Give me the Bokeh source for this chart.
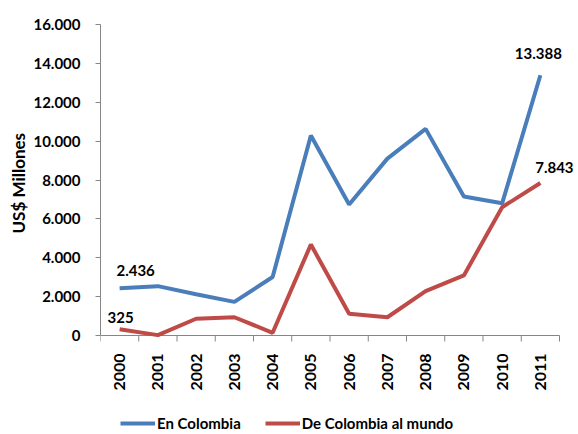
import numpy as np
from bokeh.plotting import figure
from bokeh.models import FixedTicker, Range1d, Legend, LegendItem, Label, Title
from bokeh.core.properties import value
from bokeh.embed import file_html
from bokeh.resources import INLINE

years = ["2000", "2001", "2002", "2003", "2004", "2005",
         "2006", "2007", "2008", "2009", "2010", "2011"]
en_colombia = [2436, 2540, 2120, 1730, 3010, 10290, 6740, 9100, 10630, 7150, 6800, 13388]
de_colombia = [325, 20, 860, 940, 140, 4680, 1120, 940, 2280, 3090, 6600, 7843]
y_ticks = [0, 2000, 4000, 6000, 8000, 10000, 12000, 14000, 16000]
y_tick_labels = ["0", "2.000", "4.000", "6.000", "8.000", "10.000", "12.000", "14.000", "16.000"]
series_names = ["En Colombia", "De Colombia al mundo"]
y_title = "US$ Millones"

BLUE = "#4A7EBB"
RED = "#BE4B48"
AXIS = "#868686"
FONT = "Lato"

# canvas geometry (pixels)
W, H = 576, 432
LEFT, TOP = 100, 24
AXIS_Y_PX = 335          # pixel row of value 0
AXIS_RIGHT_PX = 559      # pixel column of the x axis end
TITLE_BOTTOM_PX = 233    # pixel row where the rotated y title starts


def fmt(v):
    return f"{v:,}".replace(",", ".")


xs = list(range(len(years)))
n = len(years)

px_per_y = (AXIS_Y_PX - TOP) / (y_ticks[-1] - y_ticks[0])
y_start = y_ticks[0] - (H - AXIS_Y_PX) / px_per_y
px_per_x = (AXIS_RIGHT_PX - LEFT) / n
x_end = -0.5 + (W - LEFT) / px_per_x

p = figure(width=W, height=H, output_backend="svg", toolbar_location=None,
           x_range=Range1d(-0.5, x_end), y_range=Range1d(y_start, y_ticks[-1]),
           min_border_left=LEFT, min_border_right=0, min_border_top=TOP, min_border_bottom=0)
p.outline_line_color = None
p.xgrid.visible = False
p.ygrid.visible = False
p.xaxis.visible = False

# y axis
ya = p.yaxis[0]
ya.bounds = (y_ticks[0], y_ticks[-1])
ya.ticker = FixedTicker(ticks=y_ticks)
ya.major_label_overrides = {t: l for t, l in zip(y_ticks, y_tick_labels)}
ya.axis_line_color = AXIS
ya.major_tick_line_color = AXIS
ya.major_tick_out = 5
ya.major_tick_in = 0
ya.minor_tick_line_color = None
ya.major_label_standoff = 15
ya.major_label_text_font = FONT
ya.major_label_text_font_style = "bold"
ya.major_label_text_font_size = "15px"
ya.major_label_text_color = "black"

# y title, centred on the 0..16000 span rather than the whole frame
p.add_layout(Title(text=y_title, align="left", offset=H - TITLE_BOTTOM_PX,
                   text_font=FONT, text_font_style="bold", text_font_size="17px",
                   text_color="black", standoff=4), "left")

# x axis drawn by hand: line at 0, ticks between categories, rotated labels
bounds = [i - 0.5 for i in range(n + 1)]
p.segment(x0=[bounds[0]], x1=[bounds[-1]], y0=[y_ticks[0]], y1=[y_ticks[0]],
          line_color=AXIS, line_width=1)
p.ray(x=bounds, y=[y_ticks[0]] * len(bounds), length=6, length_units="screen",
      angle=-np.pi / 2, line_color=AXIS, line_width=1)
p.text(x=xs, y=[y_ticks[0]] * n, text=years, angle=np.pi / 2, y_offset=18,
       text_align="right", text_baseline="middle", text_font=value(FONT),
       text_font_style="bold", text_font_size="16px", text_color="black")

r1 = p.line(xs, en_colombia, line_color=BLUE, line_width=4)
r2 = p.line(xs, de_colombia, line_color=RED, line_width=4)

# data labels
lab = dict(text_align="center", text_baseline="bottom", text_font=FONT,
           text_font_style="bold", text_font_size="15px", text_color="black")
p.add_layout(Label(x=xs[0], y=en_colombia[0], text=fmt(en_colombia[0]), x_offset=16, y_offset=12, **lab))
p.add_layout(Label(x=xs[0], y=de_colombia[0], text=fmt(de_colombia[0]), x_offset=1, y_offset=6, **lab))
p.add_layout(Label(x=xs[-1], y=en_colombia[-1], text=fmt(en_colombia[-1]), x_offset=-2, y_offset=16, **lab))
p.add_layout(Label(x=xs[-1], y=de_colombia[-1], text=fmt(de_colombia[-1]), x_offset=14, y_offset=10, **lab))

legend = Legend(items=[LegendItem(label=series_names[0], renderers=[r1]),
                       LegendItem(label=series_names[1], renderers=[r2])],
                orientation="horizontal", location=(20, 0),
                padding=0, margin=0, spacing=24, glyph_width=35, glyph_height=12,
                label_height=12, label_standoff=2,
                label_text_font=FONT, label_text_font_style="bold",
                label_text_font_size="15px", label_text_color="black",
                border_line_color=None, background_fill_alpha=0)
p.add_layout(legend, "center")

open("out.html", "w").write(file_html(p, INLINE))
